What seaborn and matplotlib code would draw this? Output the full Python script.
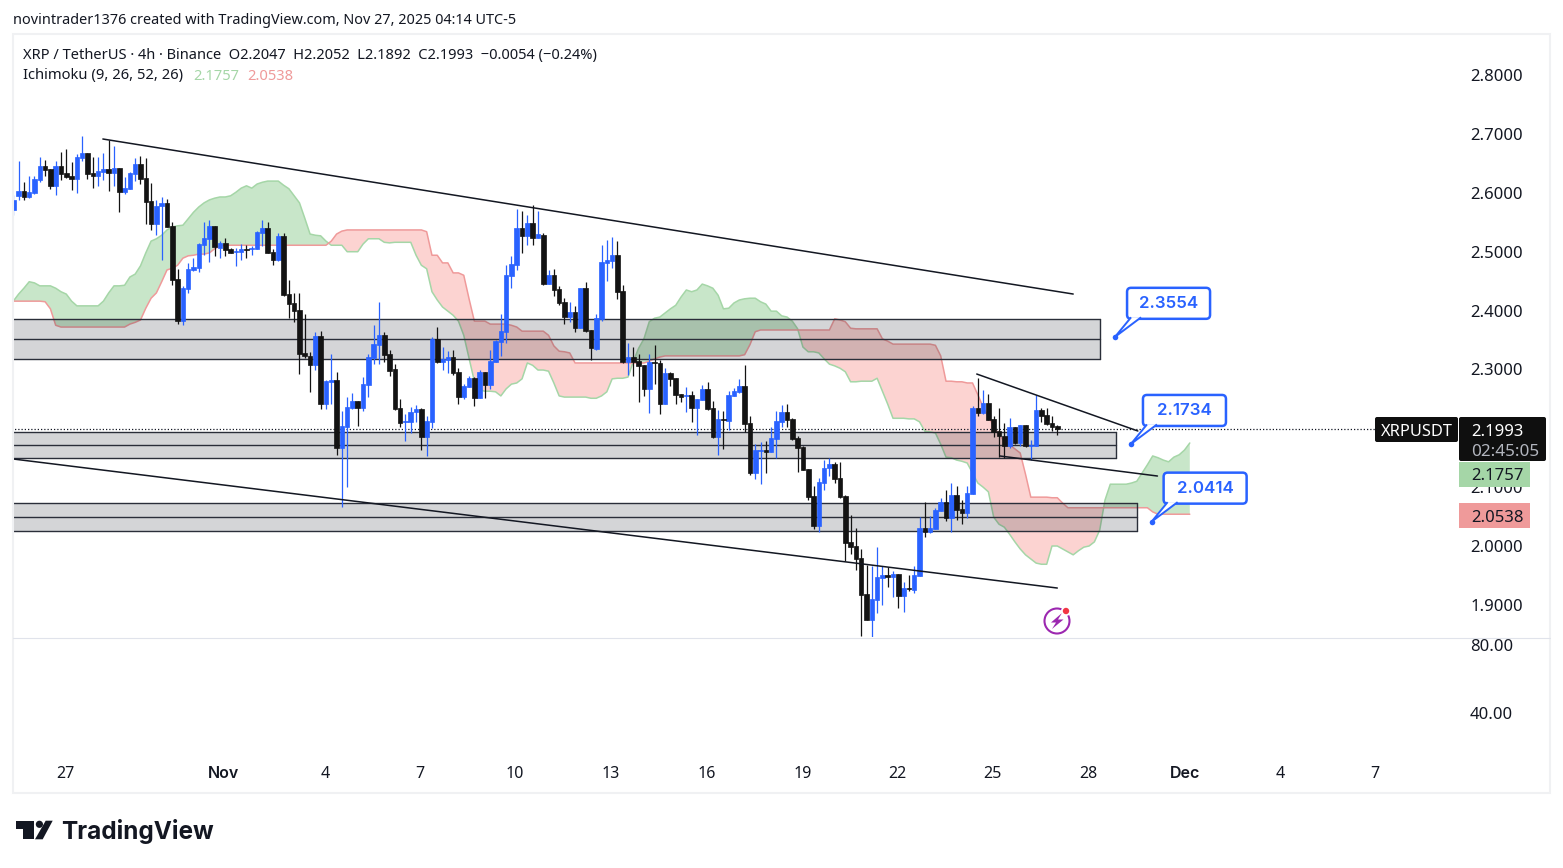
import numpy as np
import matplotlib
matplotlib.use("Agg")
import matplotlib.pyplot as plt
import seaborn as sns
from matplotlib.patches import Rectangle, FancyBboxPatch, Polygon, Circle, Arc
from matplotlib.transforms import IdentityTransform

# 4h candles
opens = [2.571,2.595,2.603,2.593,2.600,2.622,2.646,2.641,2.612,2.646,2.634,2.629,2.624,2.659,2.668,2.634,2.629,2.636,2.641,2.634,
 2.642,2.602,2.607,2.632,2.649,2.626,2.586,2.547,2.578,2.583,2.544,2.454,2.383,2.437,2.469,2.473,2.512,2.522,2.544,2.507,
 2.515,2.505,2.500,2.500,2.505,2.505,2.505,2.532,2.541,2.500,2.486,2.527,2.429,2.413,2.401,2.328,2.323,2.308,2.356,2.242,
 2.279,2.282,2.167,2.203,2.235,2.247,2.235,2.274,2.320,2.342,2.359,2.326,2.301,2.235,2.211,2.211,2.228,2.233,2.185,2.211,
 2.352,2.313,2.316,2.321,2.296,2.253,2.270,2.286,2.252,2.296,2.274,2.313,2.347,2.364,2.459,2.477,2.540,2.527,2.549,2.523,
 2.528,2.445,2.461,2.437,2.415,2.389,2.398,2.370,2.438,2.367,2.335,2.386,2.481,2.484,2.494,2.433,2.313,2.321,2.314,2.308,
 2.267,2.313,2.311,2.241,2.294,2.286,2.258,2.255,2.257,2.235,2.248,2.267,2.235,2.185,2.216,2.212,2.255,2.262,2.272,2.209,
 2.124,2.162,2.163,2.160,2.182,2.211,2.228,2.216,2.184,2.168,2.131,2.085,2.034,2.107,2.133,2.139,2.116,2.085,2.007,2.000,
 1.980,1.919,1.875,1.909,1.946,1.951,1.948,1.953,1.915,1.929,1.926,1.949,2.031,2.024,2.029,2.060,2.075,2.048,2.087,2.063,
 2.056,2.089,2.235,2.226,2.243,2.216,2.195,2.187,2.170,2.202,2.175,2.206,2.170,2.170,2.231,2.223,2.209,2.2047]
highs = [2.597,2.654,2.618,2.628,2.628,2.661,2.656,2.641,2.654,2.670,2.675,2.653,2.666,2.697,2.668,2.661,2.661,2.668,2.690,2.680,
 2.642,2.627,2.636,2.659,2.663,2.659,2.617,2.588,2.593,2.590,2.551,2.471,2.442,2.481,2.490,2.515,2.551,2.554,2.544,2.519,
 2.524,2.507,2.507,2.513,2.512,2.510,2.536,2.554,2.551,2.505,2.532,2.532,2.452,2.430,2.430,2.395,2.330,2.364,2.366,2.282,
 2.327,2.296,2.230,2.254,2.260,2.247,2.287,2.327,2.376,2.415,2.364,2.333,2.309,2.250,2.224,2.236,2.240,2.235,2.221,2.355,
 2.372,2.338,2.331,2.333,2.303,2.275,2.289,2.287,2.299,2.296,2.333,2.350,2.394,2.477,2.493,2.573,2.569,2.562,2.579,2.569,
 2.532,2.469,2.471,2.441,2.421,2.415,2.408,2.438,2.449,2.367,2.394,2.511,2.520,2.525,2.518,2.444,2.345,2.338,2.326,2.308,
 2.326,2.342,2.316,2.303,2.296,2.286,2.258,2.270,2.264,2.250,2.274,2.279,2.246,2.231,2.229,2.263,2.268,2.284,2.308,2.221,
 2.173,2.177,2.179,2.202,2.229,2.240,2.241,2.218,2.187,2.170,2.131,2.102,2.116,2.146,2.150,2.143,2.143,2.087,2.053,2.031,
 1.995,1.968,1.966,1.999,1.966,1.965,1.958,1.953,1.939,1.951,1.966,2.049,2.075,2.051,2.065,2.082,2.095,2.107,2.102,2.078,
 2.102,2.238,2.285,2.265,2.258,2.221,2.235,2.209,2.218,2.202,2.206,2.206,2.180,2.257,2.235,2.235,2.221,2.2052]
lows = [2.563,2.588,2.588,2.592,2.598,2.618,2.629,2.607,2.597,2.622,2.626,2.605,2.600,2.654,2.624,2.609,2.612,2.622,2.603,2.612,
 2.568,2.598,2.607,2.620,2.615,2.547,2.537,2.529,2.486,2.542,2.444,2.378,2.376,2.430,2.468,2.466,2.495,2.483,2.493,2.490,
 2.493,2.498,2.476,2.486,2.490,2.495,2.505,2.510,2.498,2.478,2.485,2.425,2.388,2.381,2.293,2.320,2.262,2.299,2.232,2.232,
 2.242,2.155,2.067,2.101,2.232,2.204,2.230,2.254,2.310,2.309,2.312,2.288,2.231,2.202,2.179,2.192,2.211,2.163,2.153,2.201,
 2.311,2.299,2.294,2.291,2.241,2.250,2.270,2.238,2.252,2.252,2.267,2.313,2.323,2.345,2.438,2.469,2.498,2.511,2.511,2.523,
 2.444,2.445,2.425,2.410,2.377,2.381,2.364,2.370,2.364,2.316,2.333,2.383,2.450,2.472,2.420,2.311,2.291,2.289,2.245,2.255,
 2.226,2.275,2.224,2.241,2.272,2.241,2.245,2.228,2.211,2.189,2.248,2.231,2.183,2.155,2.165,2.197,2.255,2.260,2.194,2.121,
 2.114,2.105,2.124,2.160,2.149,2.202,2.202,2.180,2.126,2.129,2.078,2.029,2.024,2.095,2.119,2.107,2.082,1.975,1.987,1.959,
 1.847,1.875,1.846,1.886,1.900,1.931,1.914,1.895,1.888,1.924,1.920,1.949,2.015,2.022,2.029,2.060,2.043,2.024,2.044,2.038,
 2.048,2.089,2.221,2.224,2.214,2.185,2.151,2.150,2.167,2.173,2.170,2.168,2.146,2.170,2.211,2.206,2.195,2.1892]
closes = [2.588,2.603,2.593,2.602,2.624,2.646,2.639,2.612,2.646,2.632,2.627,2.624,2.661,2.668,2.632,2.629,2.637,2.641,2.634,2.642,
 2.602,2.609,2.634,2.649,2.624,2.585,2.547,2.578,2.583,2.542,2.452,2.383,2.439,2.471,2.474,2.513,2.524,2.544,2.508,2.515,
 2.503,2.498,2.502,2.505,2.503,2.507,2.534,2.541,2.498,2.486,2.527,2.427,2.412,2.400,2.327,2.322,2.308,2.356,2.242,2.281,
 2.282,2.167,2.204,2.237,2.247,2.235,2.275,2.321,2.343,2.359,2.325,2.297,2.233,2.209,2.213,2.228,2.233,2.185,2.213,2.352,
 2.313,2.318,2.321,2.294,2.253,2.272,2.286,2.252,2.296,2.274,2.314,2.348,2.365,2.461,2.479,2.540,2.527,2.549,2.523,2.530,
 2.445,2.461,2.435,2.413,2.389,2.398,2.370,2.438,2.365,2.337,2.387,2.483,2.486,2.494,2.432,2.313,2.321,2.313,2.306,2.267,
 2.313,2.311,2.241,2.294,2.284,2.257,2.253,2.257,2.235,2.250,2.267,2.233,2.185,2.216,2.214,2.257,2.263,2.272,2.207,2.124,
 2.163,2.163,2.160,2.184,2.212,2.228,2.214,2.182,2.167,2.129,2.083,2.034,2.109,2.133,2.139,2.114,2.083,2.005,1.998,1.978,
 1.917,1.875,1.910,1.948,1.951,1.948,1.953,1.915,1.929,1.927,1.951,2.031,2.024,2.031,2.061,2.075,2.048,2.087,2.061,2.056,
 2.090,2.235,2.226,2.243,2.214,2.194,2.187,2.170,2.202,2.175,2.206,2.170,2.172,2.231,2.221,2.207,2.202,2.1993]

# Ichimoku leading spans, one value per bar, 26 bars past the last candle
span_a = [2.416,2.428,2.438,2.449,2.447,2.442,2.442,2.442,2.438,2.432,2.428,2.416,2.408,2.408,2.408,2.408,2.408,2.416,2.430,2.442,
 2.442,2.443,2.457,2.462,2.476,2.498,2.518,2.522,2.528,2.537,2.542,2.544,2.545,2.556,2.567,2.576,2.583,2.588,2.591,2.593,
 2.593,2.595,2.601,2.608,2.612,2.608,2.615,2.618,2.620,2.620,2.620,2.613,2.607,2.595,2.583,2.557,2.530,2.528,2.527,2.518,
 2.511,2.511,2.511,2.500,2.500,2.500,2.513,2.522,2.522,2.522,2.516,2.515,2.516,2.516,2.516,2.516,2.494,2.477,2.471,2.432,
 2.418,2.406,2.399,2.392,2.382,2.358,2.319,2.280,2.265,2.263,2.263,2.262,2.255,2.267,2.275,2.277,2.284,2.311,2.307,2.299,
 2.299,2.297,2.277,2.255,2.253,2.253,2.253,2.253,2.253,2.251,2.251,2.255,2.262,2.284,2.285,2.285,2.287,2.314,2.336,2.352,
 2.381,2.387,2.389,2.396,2.403,2.409,2.423,2.435,2.432,2.435,2.445,2.442,2.438,2.426,2.403,2.404,2.413,2.418,2.420,2.421,
 2.421,2.415,2.411,2.399,2.399,2.391,2.389,2.382,2.369,2.338,2.330,2.330,2.328,2.318,2.309,2.306,2.302,2.296,2.279,2.279,
 2.280,2.280,2.280,2.285,2.263,2.241,2.217,2.217,2.217,2.216,2.216,2.211,2.195,2.194,2.192,2.173,2.151,2.150,2.146,2.144,
 2.141,2.124,2.107,2.100,2.092,2.049,2.037,2.032,2.020,2.007,1.995,1.985,1.978,1.971,1.969,1.969,2.000,2.000,1.995,1.990,
 1.985,1.992,1.998,2.000,2.007,2.027,2.078,2.105,2.105,2.105,2.105,2.107,2.110,2.124,2.138,2.153,2.150,2.146,2.143,2.151,
 2.155,2.163,2.175]
span_b = [2.416,2.416,2.416,2.416,2.416,2.416,2.415,2.403,2.375,2.372,2.372,2.372,2.372,2.372,2.372,2.372,2.372,2.372,2.372,2.372,
 2.372,2.372,2.377,2.380,2.384,2.404,2.421,2.430,2.449,2.469,2.472,2.477,2.489,2.493,2.494,2.496,2.496,2.498,2.505,2.510,
 2.511,2.511,2.511,2.511,2.511,2.511,2.511,2.511,2.511,2.511,2.511,2.511,2.511,2.511,2.511,2.511,2.511,2.511,2.511,2.511,
 2.518,2.530,2.535,2.537,2.537,2.537,2.537,2.537,2.537,2.537,2.537,2.537,2.537,2.537,2.537,2.537,2.537,2.537,2.534,2.494,
 2.494,2.481,2.481,2.464,2.464,2.460,2.420,2.382,2.382,2.382,2.377,2.377,2.377,2.377,2.375,2.372,2.365,2.365,2.365,2.365,
 2.365,2.358,2.340,2.331,2.330,2.328,2.311,2.311,2.311,2.311,2.311,2.311,2.311,2.311,2.311,2.311,2.311,2.311,2.311,2.311,
 2.314,2.318,2.321,2.323,2.323,2.323,2.323,2.323,2.323,2.323,2.323,2.323,2.323,2.323,2.323,2.323,2.323,2.323,2.325,2.342,
 2.364,2.367,2.367,2.367,2.367,2.367,2.367,2.367,2.367,2.367,2.367,2.367,2.367,2.367,2.367,2.386,2.384,2.381,2.370,2.369,
 2.369,2.369,2.369,2.369,2.352,2.348,2.343,2.343,2.343,2.343,2.343,2.343,2.343,2.343,2.341,2.323,2.280,2.280,2.279,2.279,
 2.277,2.277,2.257,2.236,2.219,2.204,2.189,2.178,2.172,2.165,2.158,2.122,2.083,2.083,2.083,2.083,2.082,2.082,2.073,2.065,
 2.065,2.065,2.065,2.065,2.065,2.065,2.065,2.065,2.065,2.065,2.065,2.065,2.065,2.065,2.065,2.058,2.054,2.054,2.054,2.054,
 2.054,2.054,2.054]

# support / resistance zones: top, mid, bottom, last bar
zone_top = [2.3865, 2.1937, 2.0730]
zone_mid = [2.3517, 2.1716, 2.0491]
zone_bottom = [2.3177, 2.1495, 2.0255]
zone_end = [205.0, 208.0, 212.0]

# drawn trend lines as (bar, price) pairs
trend_bars = [(16.9, 200.0), (0.0, 197.0), (181.8, 212.2), (186.2, 215.9)]
trend_prices = [(2.6915, 2.4281), (2.1478, 1.9286), (2.2922, 2.1954), (2.1529, 2.1189)]

callout_bars = [207.9, 210.9, 214.8]
callout_prices = [2.3554, 2.1734, 2.0414]
callout_labels = ["2.3554", "2.1734", "2.0414"]

price_ticks = [1.9, 2.0, 2.1, 2.2, 2.3, 2.4, 2.5, 2.6, 2.7, 2.8]
volume_ticks = [40, 80]
date_pos = [9.75, 39.75, 58.8, 76.8, 94.7, 112.7, 130.8, 148.9, 166.8, 184.8, 202.9, 221.1, 239.0, 257.0]
date_labels = ["27", "Nov", "4", "7", "10", "13", "16", "19", "22", "25", "28", "Dec", "4", "7"]

BLUE = "#2962ff"
DARK = "#131722"
CANDLE = "#131313"
GREEN = "#a5d6a7"
RED = "#ef9a9a"

sns.set_theme(style="white")
plt.rcParams["font.family"] = ["Noto Sans", "DejaVu Sans"]

W, H = 1563, 868
fig = plt.figure(figsize=(W / 100, H / 100), dpi=100, facecolor="white")
ax = fig.add_axes([13 / W, (H - 637) / H, 1446 / W, 603 / H])
ax_low = fig.add_axes([13 / W, (H - 757) / H, 1446 / W, 120 / H], sharex=ax)
ov = fig.add_axes([0, 0, 1, 1], zorder=10)
ov.set_xlim(0, W)
ov.set_ylim(H, 0)
ov.axis("off")
ov.patch.set_alpha(0)

bars = np.arange(len(opens))
cloud_bars = np.arange(len(span_a))
o, h, l, c = map(np.array, (opens, highs, lows, closes))
a, b = np.array(span_a), np.array(span_b)

# cloud
ax.fill_between(cloud_bars, a, b, where=a >= b, interpolate=True, color="#c8e6c9", lw=0, zorder=1)
ax.fill_between(cloud_bars, a, b, where=a < b, interpolate=True, color="#fcd3d1", lw=0, zorder=1)
sns.lineplot(x=cloud_bars, y=a, ax=ax, color=GREEN, lw=1.1, zorder=1.5, errorbar=None)
sns.lineplot(x=cloud_bars, y=b, ax=ax, color=RED, lw=1.1, zorder=1.5, errorbar=None)

# zones
for top, mid, bot, end in zip(zone_top, zone_mid, zone_bottom, zone_end):
    ax.add_patch(Rectangle((-1, bot), end + 1, top - bot, fc="#2a2e39", alpha=0.2, lw=0, zorder=2))
    ax.plot([-1, end], [top, top], color="#2a2e39", lw=1.0, zorder=2.1)
    ax.plot([-1, end], [bot, bot], color="#2a2e39", lw=1.0, zorder=2.1)
    ax.plot([-1, end], [mid, mid], color="#2a2e39", lw=1.0, zorder=2.1)
    ax.plot([end, end], [bot, top], color="#2a2e39", lw=1.0, zorder=2.1)

# candles
up = c >= o
for mask, col in ((up, BLUE), (~up, CANDLE)):
    ax.vlines(bars[mask], l[mask], h[mask], color=col, lw=0.9, zorder=3)
    ax.bar(bars[mask], np.abs(c - o)[mask], bottom=np.minimum(o, c)[mask], width=0.86,
           color=col, edgecolor=col, lw=0.5, zorder=3.1)

for xs, ys in zip(trend_bars, trend_prices):
    sns.lineplot(x=list(xs), y=list(ys), ax=ax, color=DARK, lw=1.1, zorder=3.5, errorbar=None)

# last price line
ax.hlines(closes[-1], -1, 256.9, color=DARK, lw=0.9, linestyles=(0, (1, 1.6)), zorder=2.5)

ax.set_xlim(-0.057, 272.8)
ax.set_ylim(1.8454, 2.8699)
ax_low.set_ylim(14.1, 84.7)

ax.yaxis.tick_right()
ax.set_yticks(price_ticks)
ax.set_yticklabels([f"{p:.4f}" for p in price_ticks])
ax.tick_params(axis="y", length=0, pad=8, labelsize=12, labelcolor=DARK)
ax.tick_params(axis="x", length=0, labelbottom=False)
ax_low.yaxis.tick_right()
ax_low.set_yticks(volume_ticks)
ax_low.set_yticklabels([f"{v:.2f}" for v in volume_ticks])
ax_low.tick_params(axis="y", length=0, pad=8, labelsize=12, labelcolor=DARK)
ax_low.set_xticks(date_pos)
ax_low.set_xticklabels(date_labels)
ax_low.tick_params(axis="x", length=0, pad=6.8, labelsize=11.5, labelcolor=DARK)
for tick in ax_low.get_xticklabels():
    if tick.get_text() in ("Nov", "Dec"):
        tick.set_family(["Inter", "DejaVu Sans"])
        tick.set_fontweight("semibold")
for axis in (ax, ax_low):
    sns.despine(ax=axis, left=True, right=True, top=True, bottom=True)
    axis.set_xlabel("")
    axis.set_ylabel("")
    axis.patch.set_alpha(0)

# callouts
sns.scatterplot(x=callout_bars, y=callout_prices, ax=ax, color=BLUE, s=16, lw=0, zorder=6)
fig.canvas.draw()
for bx, pr, label in zip(callout_bars, callout_prices, callout_labels):
    px, py = ax.transData.transform((bx, pr))
    box = FancyBboxPatch((px + 12, py + 18), 83, 31, boxstyle="round,pad=0,rounding_size=4",
                         fc="white", ec=BLUE, lw=1.8, transform=IdentityTransform(), zorder=5, clip_on=False)
    ax.add_artist(box)
    tail = Polygon([(px + 16, py + 19.5), (px, py), (px + 26, py + 19.5)], closed=False, fc="white", ec=BLUE,
                   lw=1.4, transform=IdentityTransform(), zorder=5.5, clip_on=False)
    ax.add_artist(tail)
    ax.text(px + 53.5, py + 33, label, transform=IdentityTransform(), color=BLUE, fontsize=12.2,
            fontweight="semibold", family=["Inter", "DejaVu Sans"], ha="center", va="center", zorder=6)

# frame and separator
ov.add_patch(Rectangle((13, 34), 1537, 759, fc="none", ec="#f0f1f3", lw=1.5))
ov.plot([13, 1550], [637.5, 637.5], color="#e0e3eb", lw=0.8)

# header and legend
ov.text(13, 20.5, "novintrader1376 created with TradingView.com, Nov 27, 2025 04:14 UTC-5",
        fontsize=10.4, color=DARK, va="center")
ov.text(23, 55, "XRP / TetherUS · 4h · Binance  O2.2047  H2.2052  L2.1892  C2.1993  −0.0054 (−0.24%)",
        fontsize=10.55, color=DARK, va="center")
ov.text(23, 76, "Ichimoku (9, 26, 52, 26)", fontsize=10.6, color=DARK, va="center")
ov.text(193, 76, "2.1757", fontsize=10.6, color=GREEN, va="center")
ov.text(247, 76, "2.0538", fontsize=10.6, color=RED, va="center")

# price scale labels
ov.add_patch(FancyBboxPatch((1375, 417), 83, 25, boxstyle="round,pad=0,rounding_size=2", fc="#0f0f0f", ec="none"))
ov.text(1416.5, 431.5, "XRPUSDT", color="white", fontsize=11.8, ha="center", va="center")
ov.add_patch(FancyBboxPatch((1459, 417), 87, 44, boxstyle="round,pad=0,rounding_size=2", fc="#0f0f0f", ec="none"))
ov.text(1497.5, 431.5, "2.1993", color="white", fontsize=12, ha="center", va="center")
ov.text(1505.5, 451.5, "02:45:05", color="#b2b5be", fontsize=12.3, ha="center", va="center")
ov.add_patch(Rectangle((1459, 462), 71, 25, fc=GREEN, ec="none"))
ov.text(1497.5, 476.5, "2.1757", color=DARK, fontsize=12, ha="center", va="center")
ov.add_patch(Rectangle((1459, 503), 71, 25, fc=RED, ec="none"))
ov.text(1497.5, 517.5, "2.0538", color=DARK, fontsize=12, ha="center", va="center")

# lightning badge
ov.add_patch(Arc((1057, 621), 25, 25, theta1=0, theta2=360, ec="#9c27b0", lw=1.5))
ov.add_patch(Polygon([(1062, 613), (1051, 622.5), (1056, 622.5), (1052, 629), (1063.5, 619.5), (1058, 619.5)],
                     fc="#9c27b0", ec="none"))
ov.add_patch(Circle((1066, 611), 5, fc="white", ec="none"))
ov.add_patch(Circle((1066, 611), 3.2, fc="#f23645", ec="none"))

# TradingView logo
ov.add_patch(Polygon([(15.5, 820.7), (34, 820.7), (34, 839.3), (23.3, 839.3), (23.3, 828.5), (15.5, 828.5)], fc=DARK, ec="none"))
ov.add_patch(Circle((39.4, 824.3), 3.6, fc=DARK, ec="none"))
ov.add_patch(Polygon([(45.7, 820.7), (52.7, 820.7), (42.7, 839.3), (35, 839.3)], fc=DARK, ec="none"))
ov.text(61, 831.5, "TradingView", fontsize=17.5, fontweight="bold", family=["Inter", "DejaVu Sans"], color=DARK, va="center")

fig.savefig("out.png", dpi=100)
